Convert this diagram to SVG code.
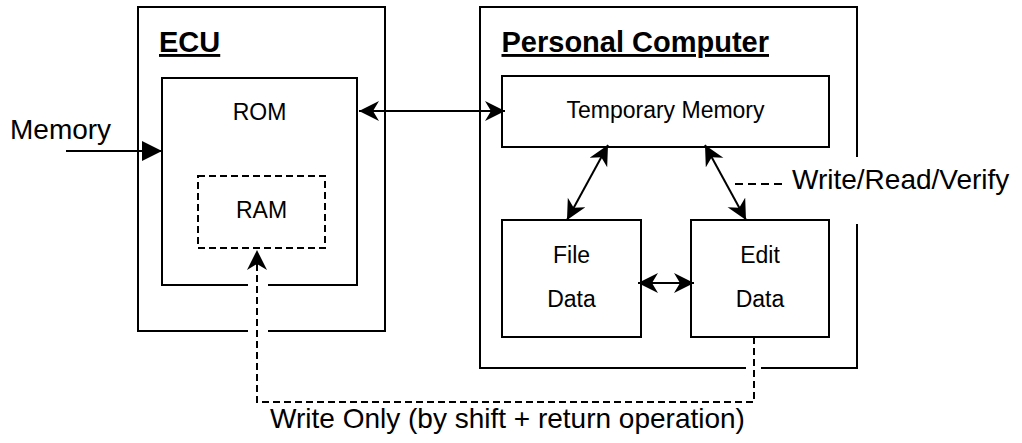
<svg xmlns="http://www.w3.org/2000/svg" width="1022" height="443" viewBox="0 0 1022 443">
<style>
  .box { fill: none; stroke: #000; stroke-width: 2; }
  .title { font-family: "Liberation Sans", Arial, sans-serif; font-size: 29px; font-weight: bold; text-decoration: underline; fill: #000; }
  .lbl { font-family: "Liberation Sans", Arial, sans-serif; font-size: 23px; fill: #000; text-anchor: middle; }
  .big { font-family: "Liberation Sans", Arial, sans-serif; font-size: 28px; fill: #000; }
  .edge { fill: none; stroke: #000; stroke-width: 2; }
  .dash { fill: none; stroke: #000; stroke-width: 2; stroke-dasharray: 7 4; }
</style>
<defs>
  <marker id="classic" markerUnits="userSpaceOnUse" markerWidth="22" markerHeight="22" refX="20" refY="10" orient="auto-start-reverse">
    <path d="M0,0 L20,10 L0,20 L6,10 Z" fill="#000" stroke="none"/>
  </marker>
  <marker id="block" markerUnits="userSpaceOnUse" markerWidth="22" markerHeight="22" refX="20" refY="10" orient="auto">
    <path d="M0,0 L20,10 L0,20 Z" fill="#000" stroke="none"/>
  </marker>
</defs>
<rect width="1022" height="443" fill="#fff"/>

<g id="ecu">
  <path class="box" d="M248,331 H138 V7 H385 V331 H268"/>
  <text class="title" x="159" y="52">ECU</text>
</g>
<g id="rom">
  <path class="box" d="M248,285 H162 V78 H357 V285 H268"/>
  <text class="lbl" x="259.5" y="120">ROM</text>
</g>
<g id="ram">
  <rect x="198" y="176" width="127" height="72" fill="none" stroke="#000" stroke-width="2" stroke-dasharray="7 4"/>
  <text class="lbl" x="261.5" y="218">RAM</text>
</g>
<g id="pc">
  <path class="box" d="M746,368 H480 V7 H857 V157 M857,224 V368 H761"/>
  <text class="title" x="501.5" y="52">Personal Computer</text>
</g>
<g id="temp">
  <rect class="box" x="502" y="76" width="327" height="71"/>
  <text class="lbl" x="665.5" y="118">Temporary Memory</text>
</g>
<g id="file">
  <rect class="box" x="502" y="220" width="139" height="117"/>
  <text class="lbl" x="571.5" y="263">File</text>
  <text class="lbl" x="571.5" y="307">Data</text>
</g>
<g id="edit">
  <rect class="box" x="691" y="220" width="138" height="117"/>
  <text class="lbl" x="760" y="263">Edit</text>
  <text class="lbl" x="760" y="307">Data</text>
</g>

<g id="connectors">
  <line class="edge" x1="66" y1="151" x2="162" y2="151" marker-end="url(#block)"/>
  <line class="edge" x1="359" y1="111" x2="505" y2="111" marker-start="url(#classic)" marker-end="url(#classic)"/>
  <line class="edge" x1="608" y1="145" x2="567" y2="220" marker-start="url(#classic)" marker-end="url(#classic)"/>
  <line class="edge" x1="705" y1="145" x2="746" y2="220" marker-start="url(#classic)" marker-end="url(#classic)"/>
  <line class="edge" x1="638" y1="283" x2="694" y2="283" marker-start="url(#classic)" marker-end="url(#classic)"/>
  <path class="dash" d="M754,337 V402 H257 V250" marker-end="url(#classic)"/>
  <line x1="735" y1="184" x2="786" y2="184" stroke="#000" stroke-width="2" stroke-dasharray="8 5"/>
</g>

<g id="labels">
  <text class="big" x="10" y="139">Memory</text>
  <text class="big" x="792" y="189">Write/Read/Verify</text>
  <text class="big" x="507.5" y="428" text-anchor="middle">Write Only (by shift + return operation)</text>
</g>
</svg>
